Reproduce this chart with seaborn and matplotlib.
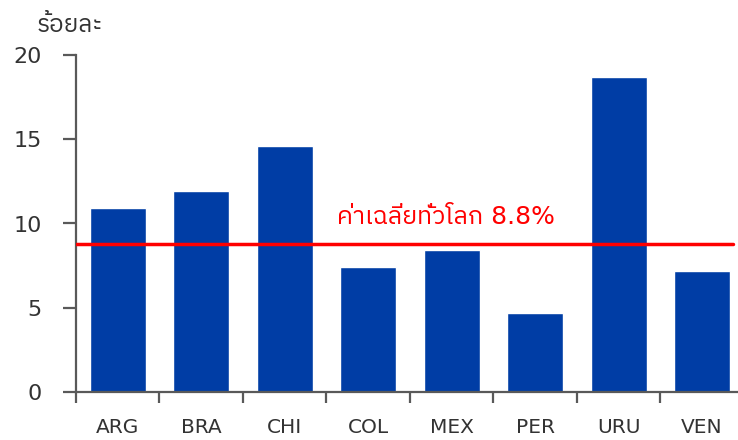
import matplotlib
matplotlib.use("Agg")
import matplotlib.pyplot as plt
import seaborn as sns
import pandas as pd
from matplotlib import font_manager

categories = ["ARG", "BRA", "CHI", "COL", "MEX", "PER", "URU", "VEN"]
values = [10.9, 11.9, 14.6, 7.4, 8.4, 4.7, 18.7, 7.2]
world_avg = 8.8
y_ticks = [0, 5, 10, 15, 20]
unit_label = "ร้อยละ"
avg_label = "ค่าเฉลี่ยทั่วโลก 8.8%"

sns.set_theme(style="white")
names = sorted({f.name for f in font_manager.fontManager.ttflist})
thai = [n for n in names if "Thai" in n or n in ("Loma", "Garuda", "Norasi", "Kinnari", "Tahoma", "Leelawadee UI", "Leelawadee")]
fams = ["DejaVu Sans"] + thai
plt.rcParams["font.family"] = fams

df = pd.DataFrame({"cat": categories, "val": values})

fig = plt.figure(figsize=(7.38, 4.4), dpi=100)
ax = fig.add_axes([76/738, 48/440, 662/738, (392-55)/440])
sns.barplot(data=df, x="cat", y="val", color="#003DA5", saturation=1, width=0.67, ax=ax)
ax.set_xlim(-0.5, 7.43)
ax.set_ylim(0, 20)
ax.set_yticks(y_ticks)
ax.set_xlabel("")
ax.set_ylabel("")
ax.axhline(world_avg, xmin=0, xmax=(7.37 + 0.5) / 7.93, color="#FF0000", lw=2.5, zorder=3)
ax.text(3.93, 10.4, avg_label, color="#FF0000", fontsize=18, ha="center", va="center", family=fams)
fig.text(37/738, 1 - 25/440, unit_label, fontsize=17.5, ha="left", va="center", color="#333333", family=fams)

for s in ["top", "right"]:
    ax.spines[s].set_visible(False)
for s in ["left", "bottom"]:
    ax.spines[s].set_color("#595959")
    ax.spines[s].set_linewidth(1.6)

ax.set_xticks(range(len(categories)))
ax.set_xticklabels(categories)
ax.set_xticks([i - 0.5 for i in range(len(categories))], minor=True)
ax.tick_params(axis="x", which="major", length=0, pad=19, labelsize=14.5, labelcolor="#333333")
ax.tick_params(axis="x", which="minor", length=8, width=1.6, color="#595959", direction="out", bottom=True)
ax.tick_params(axis="y", length=9.5, width=1.6, color="#595959", direction="out", pad=15, labelsize=16, labelcolor="#333333", left=True)

fig.savefig("out.png", dpi=100)
